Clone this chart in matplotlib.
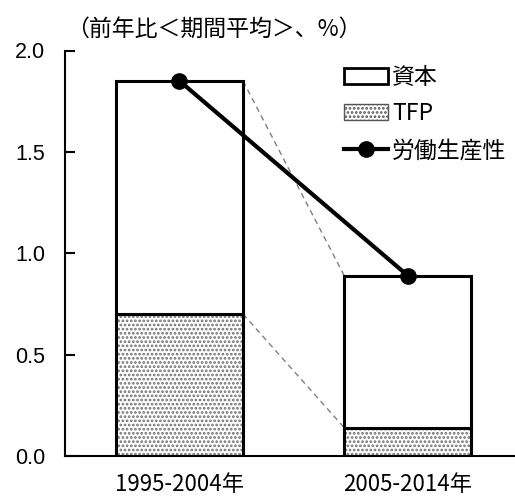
import matplotlib
matplotlib.use("Agg")
from matplotlib import pyplot as plt
from matplotlib.patches import Patch
from matplotlib.lines import Line2D
import numpy as np

periods = ["1995-2004年", "2005-2014年"]
tfp = [0.70, 0.14]
capital = [1.15, 0.75]
labor_prod = [1.85, 0.89]

jp = ["Noto Sans CJK JP", "DejaVu Sans"]
plt.rcParams["hatch.linewidth"] = 1.3

fig = plt.figure(figsize=(5.15, 5.0), dpi=100)
ax = fig.add_axes([0.126, 0.088, 0.874, 0.811])

x = np.arange(len(periods))
w = 0.557
total = np.array(tfp) + np.array(capital)

# TFP (dotted fill), then outline
ax.bar(x, tfp, width=w, color="white", edgecolor="#707070", hatch="....", linewidth=0, zorder=2)
ax.bar(x, tfp, width=w, color="none", edgecolor="black", linewidth=2.2, zorder=3)
ax.bar(x, capital, bottom=tfp, width=w, color="white", edgecolor="black", linewidth=2.2, zorder=3)

# gray dashed connectors between bars
ax.plot([x[0] + w/2, x[1] - w/2], [total[0], total[1]], color="gray", ls=(0, (4, 3)), lw=1, zorder=1)
ax.plot([x[0] + w/2, x[1] - w/2], [tfp[0], tfp[1]], color="gray", ls=(0, (4, 3)), lw=1, zorder=1)

ax.plot(x, labor_prod, color="black", lw=3, marker="o", markersize=11, zorder=5)

ax.set_xlim(-0.502, 1.47)
ax.set_ylim(0, 2.0)
ax.set_yticks([0, 0.5, 1.0, 1.5, 2.0])
ax.set_yticklabels(["0.0", "0.5", "1.0", "1.5", "2.0"], family="Liberation Sans", fontsize=15.5)
ax.set_xticks(x)
ax.set_xticklabels(periods, family=jp, fontsize=16)
ax.tick_params(axis="y", direction="in", length=7, width=1.5, pad=14)
ax.tick_params(axis="x", length=0, pad=12)
for s in ["top", "right"]:
    ax.spines[s].set_visible(False)
ax.spines["left"].set_linewidth(1.5)
ax.spines["bottom"].set_linewidth(1.5)

fig.text(0.128, 0.942, "（前年比＜期間平均＞、%）", family=jp, fontsize=16.5, va="center")

handles = [
    Patch(facecolor="white", edgecolor="black", linewidth=2),
    Patch(facecolor="white", edgecolor="#555555", hatch="....", linewidth=1),
    Line2D([], [], color="black", lw=3, marker="o", markersize=11),
]
leg = ax.legend(handles, ["資本", "TFP", "労働生産性"], loc="upper left",
                bbox_to_anchor=(0.6, 0.985), frameon=False, prop={"family": jp, "size": 16.5},
                handlelength=1.9, handletextpad=0.2, labelspacing=0.6, borderaxespad=0)

fig.savefig("out.png", dpi=100)
